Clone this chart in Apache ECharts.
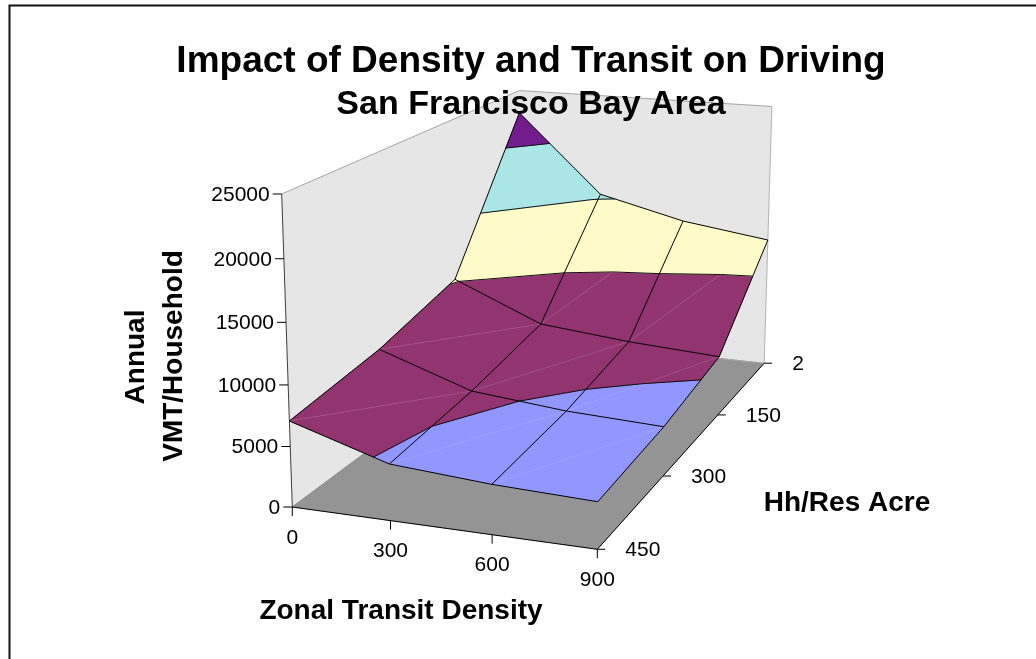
<!DOCTYPE html>
<html>
<head>
<meta charset="utf-8">
<style>html,body{margin:0;padding:0;background:#fff}#c{width:1036px;height:659px}</style>
<script src="https://cdn.jsdelivr.net/npm/echarts@6/dist/echarts.min.js"></script>
</head>
<body>
<div id="c"></div>
<script>
// Categories on the two horizontal axes and ticks on the vertical one
const transitDensity = [0, 300, 600, 900];
const hhPerAcre = [2, 150, 300, 450];
const vmtTicks = [0, 5000, 10000, 15000, 20000, 25000];

// Annual VMT per household, one row per Hh/Res Acre category (0, 300, 600, 900 transit density)
const vmtAtHh2 = [22800, 15350, 13370, 12210];
const vmtAtHh150 = [10160, 6740, 5930, 5410];
const vmtAtHh300 = [8160, 5400, 4610, 4240];
const vmtAtHh450 = [7080, 4610, 4040, 3760];

// Band colours: one per 5000 step of the vertical axis
const bandColors = ['#9296ff', '#913470', '#fffbc8', '#aae6e6', '#731c8e'];

const vmtRows = [vmtAtHh2, vmtAtHh150, vmtAtHh300, vmtAtHh450];
const cells = [];
vmtRows.forEach((row, j) => row.forEach((v, i) => cells.push([i, j, v])));

const chart = echarts.init(document.getElementById('c'), null, {renderer: 'canvas'});

// Unit-box positions come from three hidden axes, each spanning a 600 px run
const SPAN = 600;
const uOf = i => chart.convertToPixel({xAxisIndex: 0}, i) / SPAN;
const vOf = j => chart.convertToPixel({xAxisIndex: 1}, j) / SPAN;
const wOf = val => 1 - chart.convertToPixel({yAxisIndex: 0}, val) / SPAN;

// Perspective camera: maps the unit box (u along transit, v towards the back, w up) to the page
function project(u, v, w) {
  const d = 1 - 0.05063 * u + 0.2839 * v - 0.04104 * w;
  return [
    (274.8 * u + 375.3 * v - 22.16 * w + 292.3) / d,
    (14.48 * u - 73.53 * v - 320.97 * w + 507) / d
  ];
}
// Vertex in box space; the v axis runs from 450 at the front to 2 at the back
const vtx = (i, j) => [uOf(i), vOf(j), vmtRows[j][i]];
const toPage = p => project(p[0], p[1], wOf(p[2]));

function clipBand(poly, level, keepBelow) {
  const out = [];
  for (let k = 0; k < poly.length; k++) {
    const a = poly[k], b = poly[(k + 1) % poly.length];
    const ina = keepBelow ? a[2] <= level : a[2] >= level;
    const inb = keepBelow ? b[2] <= level : b[2] >= level;
    if (ina) out.push(a);
    if (ina !== inb) {
      const t = (level - a[2]) / (b[2] - a[2]);
      out.push([a[0] + t * (b[0] - a[0]), a[1] + t * (b[1] - a[1]), level]);
    }
  }
  return out;
}
function contour(tri, level) {
  const pts = [];
  for (let k = 0; k < 3; k++) {
    const a = tri[k], b = tri[(k + 1) % 3];
    if ((a[2] < level) !== (b[2] < level)) {
      const t = (level - a[2]) / (b[2] - a[2]);
      pts.push([a[0] + t * (b[0] - a[0]), a[1] + t * (b[1] - a[1]), level]);
    }
  }
  return pts.length === 2 ? pts : null;
}
const seg = (a, b, stroke, lineWidth) => ({
  type: 'line',
  shape: {x1: a[0], y1: a[1], x2: b[0], y2: b[1]},
  style: {stroke, lineWidth}
});
const poly = (points, fill) => ({
  type: 'polygon',
  shape: {points},
  style: {fill, stroke: fill, lineWidth: 0.6}
});
const tickFont = '21px "Liberation Sans", Arial, sans-serif';
const tickText = (x, y, text, textAlign) => ({
  type: 'text',
  style: {x, y, text, fill: '#000', font: tickFont, textAlign, textVerticalAlign: 'middle'}
});

// Walls, floor, axis lines, ticks and tick labels
function renderFrame() {
  const A = project(0, 0, 0), B = project(1, 0, 0), C = project(1, 1, 0), D = project(0, 1, 0);
  const At = project(0, 0, 1), Ct = project(1, 1, 1), Dt = project(0, 1, 1);
  const children = [
    poly([A, D, Dt, At], '#e6e6e6'),
    poly([D, C, Ct, Dt], '#e6e6e6'),
    poly([A, B, C, D], '#949494'),
    seg(At, Dt, '#a6a6a6', 1), seg(Dt, Ct, '#a6a6a6', 1), seg(Ct, C, '#b4b4b4', 1),
    seg(A, D, '#8c8c8c', 1), seg(D, C, '#a6a6a6', 1),
    seg(A, At, '#404040', 1), seg(A, B, '#000', 1), seg(B, C, '#000', 1)
  ];
  vmtTicks.forEach(t => {
    const p = project(0, 0, wOf(t));
    children.push(seg([p[0] - 9, p[1]], p, '#000', 1));
    children.push(tickText(p[0] - 12, p[1] + 1, String(t), 'right'));
  });
  transitDensity.forEach((t, i) => {
    const p = project(uOf(i), 0, 0);
    children.push(seg(p, [p[0], p[1] + 9], '#000', 1));
    children.push(tickText(p[0], p[1] + 31, String(t), 'center'));
  });
  hhPerAcre.forEach((t, j) => {
    const p = project(1, vOf(j), 0);
    children.push(seg(p, [p[0] + 8, p[1]], '#000', 1));
    children.push(tickText(p[0] + 28, p[1] + 1, String(t), 'left'));
  });
  return {type: 'group', children};
}

// One grid cell, split along its diagonal and cut into 5000-wide bands
function cellTriangles(i, j) {
  const a = vtx(i, j + 1), b = vtx(i + 1, j + 1), c = vtx(i + 1, j), d = vtx(i, j);
  return [[a, b, c], [a, c, d]];
}
function renderFills(params, api) {
  const i = api.value(0), j = api.value(1);
  if (i >= transitDensity.length - 1 || j >= hhPerAcre.length - 1) return {type: 'group', children: []};
  const children = [];
  cellTriangles(i, j).forEach(tri => {
    bandColors.forEach((color, b) => {
      let piece = clipBand(tri, vmtTicks[b], false);
      if (piece.length) piece = clipBand(piece, vmtTicks[b + 1], true);
      if (piece.length > 2) children.push(poly(piece.map(toPage), color));
    });
  });
  return {type: 'group', children};
}
function renderLines(params, api) {
  const i = api.value(0), j = api.value(1);
  const children = [];
  const hasX = i < transitDensity.length - 1, hasY = j < hhPerAcre.length - 1;
  if (hasX && hasY) {
    const tris = cellTriangles(i, j);
    children.push(seg(toPage(vtx(i, j + 1)), toPage(vtx(i + 1, j)), 'rgba(255,255,255,0.15)', 0.8));
    tris.forEach(tri => vmtTicks.slice(1, -1).forEach(level => {
      const s = contour(tri, level);
      if (s) children.push(seg(toPage(s[0]), toPage(s[1]), '#101010', 1));
    }));
  }
  if (hasX) children.push(seg(toPage(vtx(i, j)), toPage(vtx(i + 1, j)), '#000', 1));
  if (hasY) children.push(seg(toPage(vtx(i, j)), toPage(vtx(i, j + 1)), '#000', 1));
  return {type: 'group', children};
}

const boldText = (x, y, text, size, rotation) => ({
  type: 'text', x, y, rotation: rotation || 0, z: 10, silent: true,
  style: {text, fill: '#000', font: 'bold ' + size + 'px "Liberation Sans", Arial, sans-serif',
    textAlign: 'center', textVerticalAlign: 'middle'}
});

chart.setOption({
  animation: false,
  backgroundColor: '#fff',
  grid: [
    {left: 0, top: 0, width: SPAN, height: SPAN, show: false},
    {left: 0, top: 0, width: SPAN, height: SPAN, show: false}
  ],
  xAxis: [
    {type: 'category', gridIndex: 0, data: transitDensity.map(String), boundaryGap: false, show: false},
    {type: 'category', gridIndex: 1, data: hhPerAcre.map(String), boundaryGap: false, inverse: true, show: false}
  ],
  yAxis: [
    {type: 'value', gridIndex: 0, min: 0, max: 25000, show: false},
    {type: 'value', gridIndex: 1, min: 0, max: 1, show: false}
  ],
  graphic: [
    {type: 'polyline', silent: true, shape: {points: [[9.5, 659], [9.5, 5.5], [1036, 5.5]]}, style: {stroke: '#111', lineWidth: 2, fill: null}},
    boldText(531, 62, 'Impact of Density and Transit on Driving', 37),
    boldText(531, 105, 'San Francisco Bay Area', 34),
    boldText(136, 357, 'Annual', 28, Math.PI / 2),
    boldText(174, 356, 'VMT/Household', 28, Math.PI / 2),
    boldText(401, 611, 'Zonal Transit Density', 28),
    boldText(847, 503, 'Hh/Res Acre', 28)
  ],
  series: [
    {type: 'custom', coordinateSystem: 'none', silent: true, z: 1, data: [[0]], renderItem: renderFrame},
    {type: 'custom', coordinateSystem: 'none', silent: true, z: 2, data: cells, renderItem: renderFills, encode: {}},
    {type: 'custom', coordinateSystem: 'none', silent: true, z: 3, data: cells, renderItem: renderLines, encode: {}}
  ]
});
</script>
</body>
</html>
